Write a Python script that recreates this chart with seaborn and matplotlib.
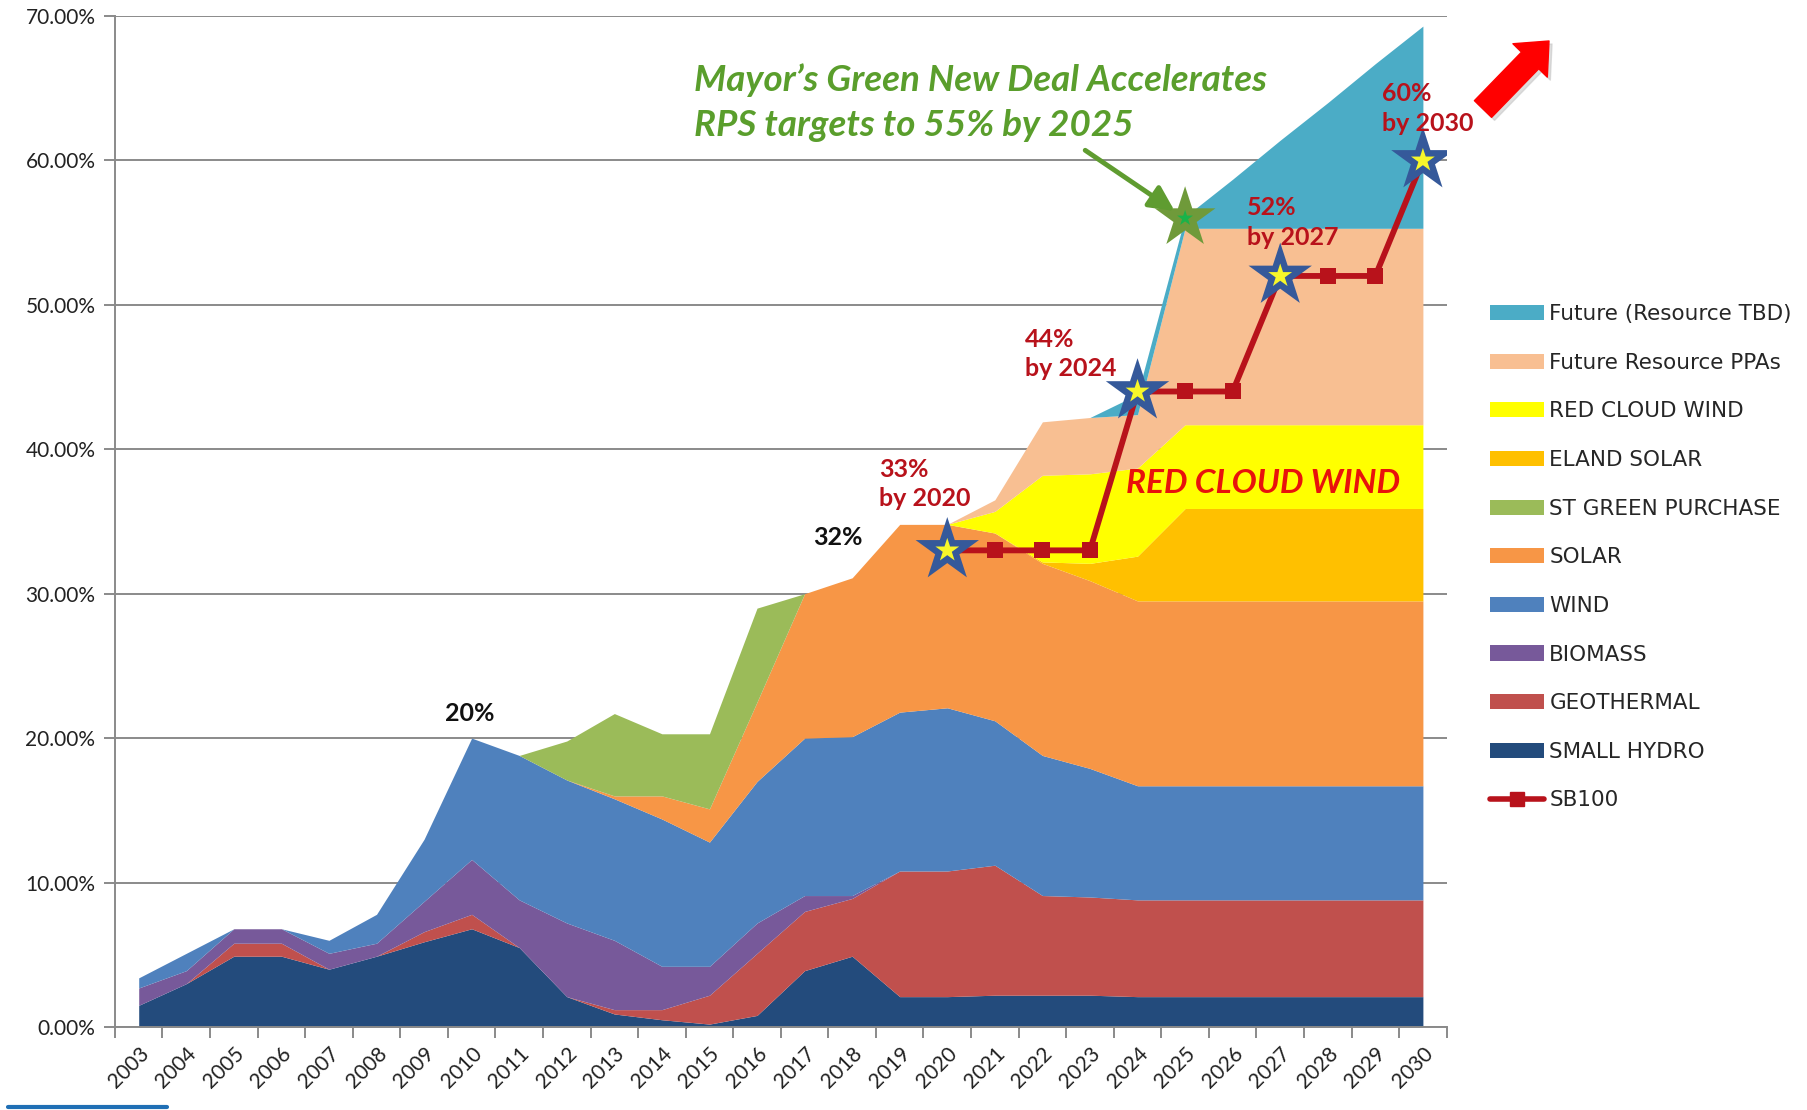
import matplotlib
matplotlib.use("Agg")
import matplotlib.pyplot as plt
from matplotlib.patches import Patch
from matplotlib.lines import Line2D
import seaborn as sns
import numpy as np

# ---- data (percent of retail sales) ----
years = list(range(2003, 2031))

small_hydro = [1.5, 3.0, 4.9, 4.9, 4.0, 4.9, 5.9, 6.8, 5.5, 2.1, 0.9, 0.5, 0.2, 0.8,
               3.9, 4.9, 2.1, 2.1, 2.2, 2.2, 2.2, 2.1, 2.1, 2.1, 2.1, 2.1, 2.1, 2.1]
geothermal = [0.0, 0.0, 0.9, 0.9, 0.0, 0.0, 0.7, 1.0, 0.0, 0.0, 0.3, 0.7, 2.0, 4.3,
              4.1, 4.0, 8.7, 8.7, 9.0, 6.9, 6.8, 6.7, 6.7, 6.7, 6.7, 6.7, 6.7, 6.7]
biomass = [1.2, 0.9, 1.0, 1.0, 1.1, 0.9, 2.1, 3.8, 3.3, 5.1, 4.8, 3.0, 2.0, 2.1,
           1.1, 0.2, 0.0, 0.0, 0.0, 0.0, 0.0, 0.0, 0.0, 0.0, 0.0, 0.0, 0.0, 0.0]
wind = [0.7, 1.2, 0.0, 0.0, 0.9, 2.0, 4.3, 8.4, 10.0, 9.9, 9.8, 10.2, 8.6, 9.8,
        10.9, 11.0, 11.0, 11.3, 10.0, 9.7, 8.9, 7.9, 7.9, 7.9, 7.9, 7.9, 7.9, 7.9]
solar = [0.0, 0.0, 0.0, 0.0, 0.0, 0.0, 0.0, 0.0, 0.0, 0.0, 0.2, 1.6, 2.3, 5.5,
         10.0, 11.0, 13.0, 12.7, 13.0, 13.3, 13.0, 12.8, 12.8, 12.8, 12.8, 12.8, 12.8, 12.8]
st_green = [0.0, 0.0, 0.0, 0.0, 0.0, 0.0, 0.0, 0.0, 0.0, 2.7, 5.7, 4.3, 5.2, 6.5,
            0.0, 0.0, 0.0, 0.0, 0.0, 0.0, 0.0, 0.0, 0.0, 0.0, 0.0, 0.0, 0.0, 0.0]
eland_solar = [0.0] * 19 + [0.1, 1.2, 3.1, 6.4, 6.4, 6.4, 6.4, 6.4, 6.4]
red_cloud = [0.0] * 18 + [1.5, 6.0, 6.2, 6.1, 5.8, 5.8, 5.8, 5.8, 5.8, 5.8]
future_ppa = [0.0] * 18 + [0.8, 3.7, 3.9, 3.7, 13.6, 13.6, 13.6, 13.6, 13.6, 13.6]
future_tbd = [0.0] * 21 + [1.4, 0.8, 3.4, 6.1, 8.7, 11.4, 14.0]

sb100_years = list(range(2020, 2031))
sb100 = [33, 33, 33, 33, 44, 44, 44, 52, 52, 52, 60]
target_years = [2020, 2024, 2027, 2030]
target_values = [33, 44, 52, 60]

layer_names = ["SMALL HYDRO", "GEOTHERMAL", "BIOMASS", "WIND", "SOLAR",
               "ST GREEN PURCHASE", "ELAND SOLAR", "RED CLOUD WIND",
               "Future Resource PPAs", "Future (Resource TBD)"]
layer_colors = ["#234b7c", "#c0504d", "#77599a", "#4f81bd", "#f79646",
                "#9bbb59", "#ffc000", "#ffff00", "#f8bf92", "#4bacc6"]

sns.set_theme(style="white")
plt.rcParams["font.family"] = ["Lato", "DejaVu Sans"]

fig = plt.figure(figsize=(18.07, 11.10), dpi=100)
ax = fig.add_axes([0.0636, 0.0748, 0.737, 0.9108])

ax.stackplot(years, small_hydro, geothermal, biomass, wind, solar, st_green,
             eland_solar, red_cloud, future_ppa, future_tbd,
             colors=layer_colors, linewidth=0, zorder=2)

# SB100 trajectory
red = "#b8121b"
sns.lineplot(x=sb100_years, y=sb100, ax=ax, color=red, linewidth=4.2,
             marker="s", markersize=11, markeredgewidth=0, zorder=5)
sns.scatterplot(x=target_years, y=target_values, ax=ax, marker="*", s=48 ** 2,
                color="#35599a", edgecolor="none", zorder=6)
sns.scatterplot(x=target_years, y=target_values, ax=ax, marker="*", s=18 ** 2,
                color="#f7f72a", edgecolor="none", zorder=7)
# green new deal marker
sns.scatterplot(x=[2025], y=[56], ax=ax, marker="*", s=46 ** 2,
                color="#6f9a3a", edgecolor="none", zorder=6)
sns.scatterplot(x=[2025], y=[56], ax=ax, marker="*", s=12 ** 2,
                color="#19b34a", edgecolor="none", zorder=7)

# axes styling
grey = "#8a8a8a"
ax.set_xlim(2002.5, 2030.5)
ax.set_ylim(0, 70)
ax.set_yticks(range(0, 71, 10))
ax.set_yticklabels([f"{v:.2f}%" for v in range(0, 71, 10)])
ax.yaxis.grid(True, color=grey, linewidth=1.4, zorder=0)
ax.xaxis.grid(False)
ax.set_axisbelow(True)
ax.set_xticks(years)
ax.set_xticklabels([str(y) for y in years], rotation=45, ha="right",
                   va="top", rotation_mode="anchor")
ax.set_xticks(np.arange(2002.5, 2031, 1.0), minor=True)
ax.tick_params(axis="x", which="major", length=0, pad=12, labelsize=15,
               labelcolor="#222222")
ax.tick_params(axis="x", which="minor", length=8, width=1.4, color=grey,
               direction="out", bottom=True)
ax.tick_params(axis="y", length=8, width=1.4, color=grey, direction="out",
               left=True, labelsize=15, labelcolor="#222222", pad=6)
for side in ["top", "right"]:
    ax.spines[side].set_visible(False)
for side in ["left", "bottom"]:
    ax.spines[side].set_color(grey)
    ax.spines[side].set_linewidth(1.4)
ax.set_xlabel("")
ax.set_ylabel("")

# annotations
ax.text(2009.95, 21.7, "20%", fontsize=18, fontweight="bold", color="#111111",
        ha="center", va="center", zorder=8)
ax.text(2017.7, 33.9, "32%", fontsize=18, fontweight="bold", color="#111111",
        ha="center", va="center", zorder=8)
for x, y, label in [(2018.56, 37.6, "33%\nby 2020"), (2021.64, 46.6, "44%\nby 2024"),
                    (2026.3, 55.7, "52%\nby 2027"), (2029.15, 63.6, "60%\nby 2030")]:
    ax.text(x, y, label, fontsize=18, fontweight="bold", color=red,
            ha="left", va="center", linespacing=1.35, zorder=8)
ax.text(2014.67, 64.0, "Mayor\u2019s Green New Deal Accelerates\nRPS targets to 55% by 2025",
        fontsize=26.5, fontweight="bold", fontstyle="italic", color="#5a9e2c",
        ha="left", va="center", linespacing=1.45, zorder=8)
ax.text(2023.75, 37.6, "RED CLOUD WIND", fontsize=24, fontweight="bold",
        fontstyle="italic", color="#e8120c", ha="left", va="center", zorder=8)
ax.annotate("", xy=(2024.78, 56.5), xytext=(2022.9, 60.7),
            arrowprops=dict(arrowstyle="-|>,head_length=0.6,head_width=0.3",
                            lw=3.5, color="#5f9c30", mutation_scale=25,
                            shrinkA=0, shrinkB=0), zorder=8)

# big red arrow (up and to the right)
arrow_style = "simple,head_length=1.3,head_width=2.3,tail_width=1.15"
ax.annotate("", xy=(1552, 1066), xytext=(1486, 998), xycoords="figure pixels",
            textcoords="figure pixels",
            arrowprops=dict(arrowstyle=arrow_style, color="#c8c8c8",
                            mutation_scale=15, shrinkA=0, shrinkB=0, alpha=0.6),
            annotation_clip=False)
ax.annotate("", xy=(1549, 1069), xytext=(1483, 1001), xycoords="figure pixels",
            textcoords="figure pixels",
            arrowprops=dict(arrowstyle=arrow_style, color="#ff0000",
                            mutation_scale=15, shrinkA=0, shrinkB=0),
            annotation_clip=False)

# legend
handles = [Patch(facecolor=c, edgecolor="none") for c in layer_colors[::-1]]
labels = layer_names[::-1]
handles.append(Line2D([], [], color=red, linewidth=4, marker="s", markersize=10))
labels.append("SB100")
fig.legend(handles, labels, loc="upper left", bbox_to_anchor=(0.8246, 0.726),
           frameon=False, handlelength=2.5, handleheight=0.7,
           handletextpad=0.25, labelspacing=1.33, borderpad=0, borderaxespad=0,
           prop={"family": "DejaVu Sans", "size": 15.5})

# small blue bar at the bottom left edge
fig.add_artist(Line2D([8 / 1807, 167 / 1807], [3 / 1110, 3 / 1110],
                      color="#1f6fb5", linewidth=3, transform=fig.transFigure))

fig.savefig("out.png", dpi=100)
